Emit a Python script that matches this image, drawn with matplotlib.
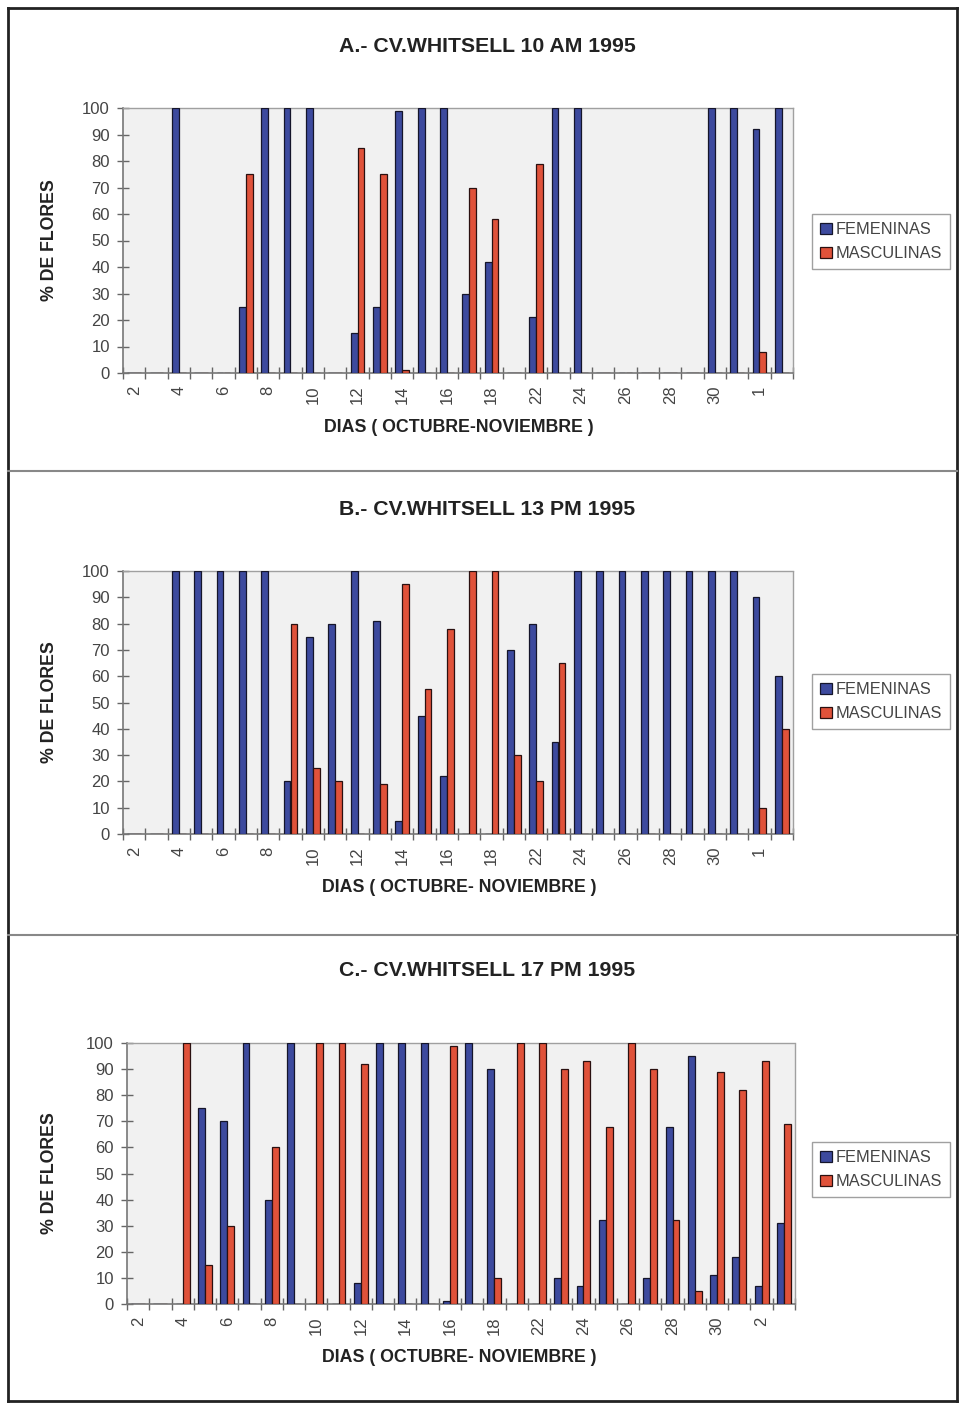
import matplotlib
matplotlib.use('Agg')
import matplotlib.pyplot as plt
from matplotlib.lines import Line2D
import numpy as np

plt.rcParams['font.family'] = ['Liberation Sans', 'DejaVu Sans']

# ---------------- data ----------------
days_ab = ['2', '3', '4', '5', '6', '7', '8', '9', '10', '11', '12', '13', '14', '15', '16', '17', '18',
           '20', '22', '23', '24', '25', '26', '27', '28', '29', '30', '31', '1', '2']
days_c = ['2', '3', '4', '5', '6', '7', '8', '9', '10', '11', '12', '13', '14', '15', '16', '17', '18',
          '20', '22', '23', '24', '25', '26', '27', '28', '29', '30', '1', '2', '3']

fem_a = [0, 0, 100, 0, 0, 25, 100, 100, 100, 0, 15, 25, 99, 100, 100, 30, 42,
         0, 21, 100, 100, 0, 0, 0, 0, 0, 100, 100, 92, 100]
masc_a = [0, 0, 0, 0, 0, 75, 0, 0, 0, 0, 85, 75, 1, 0, 0, 70, 58,
          0, 79, 0, 0, 0, 0, 0, 0, 0, 0, 0, 8, 0]

fem_b = [0, 0, 100, 100, 100, 100, 100, 20, 75, 80, 100, 81, 5, 45, 22, 0, 0,
         70, 80, 35, 100, 100, 100, 100, 100, 100, 100, 100, 90, 60]
masc_b = [0, 0, 0, 0, 0, 0, 0, 80, 25, 20, 0, 19, 95, 55, 78, 100, 100,
          30, 20, 65, 0, 0, 0, 0, 0, 0, 0, 0, 10, 40]

fem_c = [0, 0, 0, 75, 70, 100, 40, 100, 0, 0, 8, 100, 100, 100, 1, 100, 90,
         0, 0, 10, 7, 32, 0, 10, 68, 95, 11, 18, 7, 31]
masc_c = [0, 0, 100, 15, 30, 0, 60, 0, 100, 100, 92, 0, 0, 0, 99, 0, 10,
          100, 100, 90, 93, 68, 100, 90, 32, 5, 89, 82, 93, 69]

titles = ['A.- CV.WHITSELL 10 AM 1995', 'B.- CV.WHITSELL 13 PM 1995', 'C.- CV.WHITSELL 17 PM 1995']
xlabels = ['DIAS ( OCTUBRE-NOVIEMBRE )', 'DIAS ( OCTUBRE- NOVIEMBRE )', 'DIAS ( OCTUBRE- NOVIEMBRE )']
ylabel = '% DE FLORES'
series_names = ['FEMENINAS', 'MASCULINAS']

# ---------------- layout ----------------
W, H = 964, 1405
BLUE = '#3d4a9e'
RED = '#e0523a'

fig = plt.figure(figsize=(W / 100, H / 100), dpi=100)


def fx(x):
    return x / W


def fy(y):
    return 1 - y / H


panels = [
    dict(days=days_ab, fem=fem_a, masc=masc_a, box=(123, 108, 793, 373),
         title_y=47, xlabel_y=427, leg_y=214),
    dict(days=days_ab, fem=fem_b, masc=masc_b, box=(123, 571, 793, 834),
         title_y=510, xlabel_y=888, leg_y=674),
    dict(days=days_c, fem=fem_c, masc=masc_c, box=(127, 1043, 795, 1304),
         title_y=970, xlabel_y=1358, leg_y=1142),
]

for i, p in enumerate(panels):
    l, t, r, b = p['box']
    ax = fig.add_axes([fx(l), fy(b), (r - l) / W, (b - t) / H])
    ax.set_facecolor('#f1f1f1')
    n = len(p['days'])
    x = np.arange(n)
    w = 0.31
    ax.bar(x - w / 2, p['fem'], w, color=BLUE, edgecolor='#15152a', linewidth=0.9,
           label=series_names[0], zorder=3)
    ax.bar(x + w / 2, p['masc'], w, color=RED, edgecolor='#2a1010', linewidth=0.9,
           label=series_names[1], zorder=3)
    ax.set_xlim(-0.5, n - 0.5)
    ax.set_ylim(0, 100)
    ax.set_yticks(range(0, 101, 10))
    ax.set_xticks(x[::2])
    ax.set_xticklabels(p['days'][::2], rotation=90)
    ax.set_xticks(np.arange(-0.5, n, 1.0), minor=True)
    ax.tick_params(axis='x', which='major', length=0, pad=9, labelsize=12, colors='#444444')
    ax.tick_params(axis='x', which='minor', length=9, direction='inout', color='#666666', width=1)
    ax.tick_params(axis='y', length=9, direction='inout', color='#666666', width=1,
                   labelsize=12, colors='#444444', pad=5)
    for s in ['top', 'right']:
        ax.spines[s].set_color('#a0a0a0')
        ax.spines[s].set_linestyle((0, (1, 1)))
        ax.spines[s].set_linewidth(1)
    for s in ['left', 'bottom']:
        ax.spines[s].set_color('#777777')
        ax.spines[s].set_linewidth(1.2)

    leg = ax.legend(loc='upper left', bbox_to_anchor=(fx(812), fy(p['leg_y'])),
                    bbox_transform=fig.transFigure, fontsize=11.8, frameon=True,
                    fancybox=False, edgecolor='#888888', handlelength=0.7, handleheight=0.7,
                    handletextpad=0.25, borderpad=0.5, labelspacing=0.55, borderaxespad=0)
    leg.get_frame().set_linewidth(1)
    for txt in leg.get_texts():
        txt.set_color('#444444')

    fig.text(fx(487), fy(p['title_y']), titles[i], ha='center', va='center',
             fontsize=15.3, fontweight='bold', color='#222222')
    fig.text(fx(459), fy(p['xlabel_y']), xlabels[i], ha='center', va='center',
             fontsize=12.8, fontweight='bold', color='#222222')
    fig.text(fx(50), fy((t + b) / 2), ylabel, ha='center', va='center', rotation=90,
             fontsize=12.8, fontweight='bold', color='#222222')

# outer frame and separators
lines = [
    ((8, 957), (8, 8), 2.0, '#222222'),
    ((8, 957), (1401, 1401), 2.0, '#222222'),
    ((8, 8), (8, 1401), 2.0, '#222222'),
    ((957, 957), (8, 1401), 2.0, '#222222'),
    ((8, 957), (471, 471), 1.5, '#888888'),
    ((8, 957), (935, 935), 1.5, '#888888'),
]
for xs, ys, lw, c in lines:
    fig.add_artist(Line2D([fx(xs[0]), fx(xs[1])], [fy(ys[0]), fy(ys[1])],
                          transform=fig.transFigure, color=c, linewidth=lw))

fig.savefig('out.png', dpi=100, facecolor='white')
